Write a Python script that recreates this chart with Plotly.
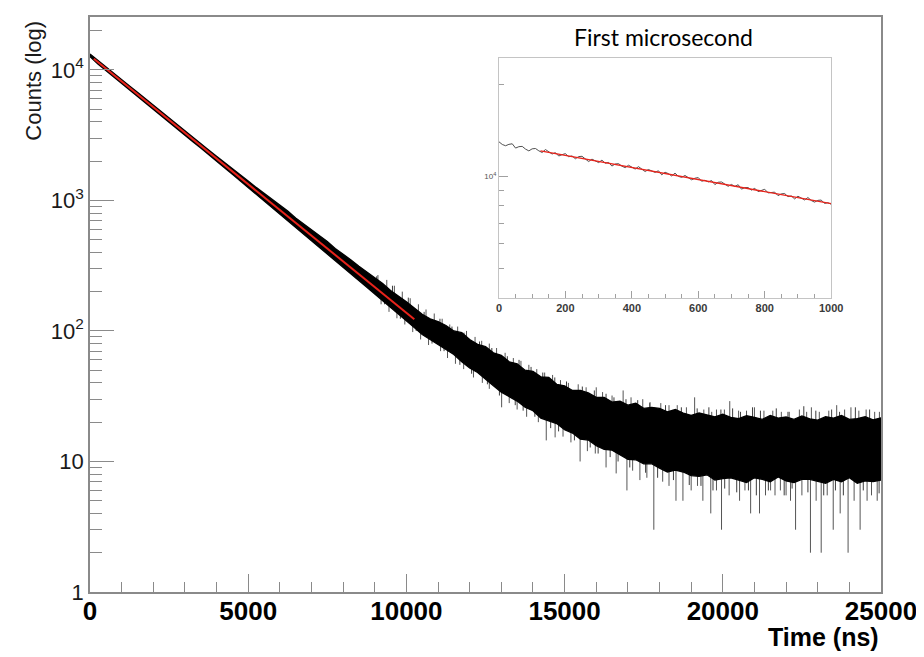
import math
import plotly.graph_objects as go

# ---------------- data ----------------
# main histogram: edges of the dense black band, every 250 ns
time_grid = list(range(0, 25001, 250))
core_upper = [13250, 11800, 10530, 9400, 8400, 7530, 6730, 6000, 5360, 4790,
              4275, 3835, 3420, 3060, 2730, 2435, 2180, 1960, 1750, 1565,
              1409, 1258, 1134, 1022, 913, 829, 734, 661, 596, 532,
              484, 428, 389, 350, 313, 284, 254, 231, 204, 186,
              167, 150, 134, 124, 118, 110, 100, 97, 86, 79,
              76, 68, 65, 58, 56, 50, 49, 44.5, 44, 39,
              38, 35, 35, 33.5, 31, 31, 28.5, 29, 27, 28,
              25.5, 26, 25.5, 24, 25, 23.5, 22.5, 23.5, 22.8, 22,
              23, 21.8, 21.3, 22.4, 21.8, 21, 22.5, 21.5, 21.9, 21,
              22.3, 21.2, 20.7, 22, 21.5, 22.5, 21, 21.3, 22, 20.8, 21.6]
core_lower = [12650, 11110, 9920, 8860, 7910, 7030, 6270, 5600, 5000, 4460,
              3985, 3540, 3160, 2820, 2520, 2250, 2005, 1775, 1585, 1414,
              1263, 1122, 996, 889, 790, 701, 623, 553, 491, 436,
              392, 344, 309, 271, 243, 216, 192, 171, 151, 134,
              119, 106, 94, 86, 79, 72, 66, 58, 52, 48,
              43, 38, 34, 31.5, 29, 26, 24.5, 21.5, 20.5, 19.5,
              17.5, 16.5, 14.8, 14.6, 13.2, 12.4, 12.2, 11.3, 10.4, 10.3,
              9.6, 9.6, 8.9, 8.3, 8.6, 8.3, 7.8, 7.7, 7.9, 7.2,
              7.4, 7.5, 7.2, 6.9, 7.5, 7.3, 7.0, 7.6, 7.1, 6.9,
              7.3, 7.3, 7.0, 6.8, 7.3, 7.0, 7.5, 6.8, 7.1, 7.0, 7.2]

# single bins sticking out of the band (time, tip value)
whisker_time = [9100, 9380, 9620, 9870, 10120, 10380, 10620, 10880, 11130, 11370,
                11620, 11900, 12170, 12380, 12620, 12850, 13120, 13380, 13620, 13870,
                14120, 14370, 14620, 14870, 15120, 15430, 15680, 16000, 16200, 16500,
                16850, 17100, 17470, 17700, 18040, 18300, 18560, 18850, 19110, 19400,
                19650, 19800, 20050, 20220, 20500, 20750, 21000, 21300, 21580, 21850,
                22100, 22420, 22650, 22800, 23050, 23350, 23600, 23850, 24050, 24300,
                24530, 24800, 24950,
                9200, 9450, 9700, 9950, 10200, 10450, 10700, 11080, 11300, 11550,
                11810, 12120, 12400, 12620, 13010, 13250, 13500, 13800, 14170, 14420,
                14700, 14950, 15200, 15490, 15720, 15970, 16310, 16630, 16970, 17150,
                17380, 17600, 17820, 18100, 18300, 18520, 18740, 19000, 19200, 19370,
                19620, 19800, 19960, 20200, 20530, 20700, 20880, 21160, 21350, 21510,
                21650, 21820, 22000, 22140, 22300, 22500, 22770, 22950, 23110, 23300,
                23490, 23710, 23960, 24150, 24340, 24560, 24700, 24880]
whisker_tip = [268, 246, 222, 200, 178, 160, 146, 136, 124, 112,
               108, 100, 90, 84, 80, 74, 68, 62, 59, 55,
               51, 48, 46, 42, 40, 39, 37, 37, 34, 32,
               35, 31, 30, 28.5, 28, 27, 27, 26, 31, 25,
               24, 25, 25, 29, 24.5, 24.5, 26, 24.5, 24.5, 24,
               24, 25, 24, 26, 24, 24.5, 27, 25, 26, 24.5,
               25, 24, 24,
               160, 140, 125, 112, 98, 86, 78, 70, 62, 56,
               51, 44, 40, 36, 26, 28, 25, 22, 20, 14.5,
               15.3, 15.5, 14, 10, 12, 11.5, 9, 8.1, 6, 8.5,
               7.2, 7.5, 3, 7, 6.5, 5, 5, 6, 6.5, 5,
               4, 6, 3, 5.5, 5, 6, 4, 4, 5.5, 6,
               5.5, 6, 5.5, 5, 3, 5.5, 2, 5, 2, 5.5,
               3, 4, 2, 5, 3, 5, 5.5, 5]

# shorter bins along the band edges (time, tip value)
fringe_time = [9060, 9310, 9560, 9810, 10060, 10310, 10560, 10810, 11060, 11190,
               11440, 11690, 11820, 12060, 12310, 12560, 12700, 12940, 13190, 13440,
               13560, 13690, 13940, 14060, 14310, 14560, 14690, 14810, 15060, 15310,
               15560, 15810, 15940, 16060, 16310, 16440, 16560, 16690, 16940, 17060,
               17310, 17560, 17690, 17940, 18190, 18440, 18690, 18940, 19190, 19310,
               19560, 19690, 19940, 20060, 20310, 20440, 20560, 20810, 20940, 21060,
               21190, 21440, 21690, 21940, 22060, 22190, 22560, 22690, 22940, 23190,
               23440, 23560, 23690, 23810, 24190, 24440, 24640, 24940]
fringe_tip = [262, 160, 222, 124, 180, 100, 140, 80, 124, 70,
              108, 55, 97, 47, 83, 39, 74, 32, 64, 27,
              60, 24.5, 53, 22, 48, 18, 44, 17, 41, 14.5,
              37.5, 12.8, 35, 11.5, 33, 10.8, 31, 10, 30, 9,
              29.5, 8.2, 28, 7.5, 27, 7.2, 26, 6.6, 25.5, 6.5,
              26, 6, 25, 6.2, 25.5, 5.8, 24, 6, 26, 5.5,
              24.5, 6, 25.5, 5.5, 24, 6.2, 26.5, 5.8, 24.5, 5.5,
              25, 6, 24, 5.5, 26, 6, 25, 5.7]

# exponential fit (end points of the red line)
fit_time = [120, 10250]
fit_counts = [12150, 123]

# inset: first microsecond, 10 ns bins
inset_time = list(range(0, 1001, 10))
inset_counts = [13004, 12741, 12619, 12752, 12807, 12398, 12529, 12559, 12304, 12138,
                12328, 12357, 12144, 11991, 12262, 12038, 11852, 11977, 11674, 11798,
                11886, 11609, 11684, 11434, 11625, 11651, 11382, 11194, 11404, 11284,
                11109, 11315, 11053, 11124, 10821, 10991, 11017, 10815, 10690, 10889,
                10754, 10577, 10773, 10545, 10381, 10543, 10432, 10313, 10442, 10127,
                10326, 10218, 10040, 10257, 10009, 9933, 10077, 9933, 9750, 9872,
                9915, 9645, 9718, 9597, 9697, 9404, 9571, 9594, 9409, 9282,
                9417, 9271, 9396, 9086, 9191, 9195, 9017, 9148, 8917, 9002,
                9077, 8831, 8835, 8883, 8650, 8768, 8788, 8583, 8631, 8438,
                8612, 8496, 8373, 8529, 8339, 8235, 8347, 8366, 8155, 8200, 8106]
inset_fit_time = [125, 1000]
inset_fit_counts = [12140, 8140]

# tick labels
x_ticks = [0, 5000, 10000, 15000, 20000, 25000]
x_tick_text = ["0", "5000", "10000", "15000", "20000", "25000"]
y_ticks = [1, 10, 100, 1000, 10000]
y_tick_text = ["1", "10", "10<sup>2</sup>", "10<sup>3</sup>", "10<sup>4</sup>"]
y_minor = [m * d for d in (1, 10, 100, 1000) for m in range(2, 10)] + [20000]
inset_x_ticks = [0, 200, 400, 600, 800, 1000]
inset_y_minor = [4000, 5000, 6000, 7000, 8000, 9000, 20000]

# ---------------- figure ----------------
AX = "#8a8a8a"
fig = go.Figure()


def whisker_segments(times, tips):
    xs, ys = [], []
    for t, tip in zip(times, tips):
        i = round(t / 250)
        base = math.sqrt(core_upper[i] * core_lower[i])  # starts inside the band
        xs += [t, t, None]
        ys += [base, tip, None]
    return xs, ys


fx, fy = whisker_segments(fringe_time, fringe_tip)
fig.add_trace(go.Scatter(x=fx, y=fy, mode="lines",
                         line=dict(color="#3c3c3c", width=1), hoverinfo="skip"))
wx, wy = whisker_segments(whisker_time, whisker_tip)
fig.add_trace(go.Scatter(x=wx, y=wy, mode="lines",
                         line=dict(color="#555555", width=1), hoverinfo="skip"))

fig.add_trace(go.Scatter(
    x=time_grid + time_grid[::-1], y=core_upper + core_lower[::-1],
    fill="toself", fillcolor="black", mode="lines",
    line=dict(color="black", width=1.3), hoverinfo="skip"))

fig.add_trace(go.Scatter(x=fit_time, y=fit_counts, mode="lines",
                         line=dict(color="#e8231b", width=2)))

fig.add_trace(go.Scatter(x=inset_time, y=inset_counts, mode="lines",
                         line=dict(color="#505050", width=1),
                         xaxis="x2", yaxis="y2"))
fig.add_trace(go.Scatter(x=inset_fit_time, y=inset_fit_counts, mode="lines",
                         line=dict(color="#e8231b", width=1.3),
                         xaxis="x2", yaxis="y2"))

fig.update_layout(
    width=916, height=649,
    margin=dict(l=82, r=40, t=7, b=65),
    paper_bgcolor="white", plot_bgcolor="white",
    showlegend=False,
    xaxis=dict(range=[0, 25000], showline=True, linecolor=AX, linewidth=1.5,
               mirror=True, ticks="inside", ticklen=18, tickwidth=1.3, tickcolor=AX,
               tickvals=x_ticks, ticktext=x_tick_text, showgrid=False, zeroline=False,
               ticklabelstandoff=-5,
               tickfont=dict(family="Liberation Sans, Arial", size=26, color="black",
                             weight="bold"),
               minor=dict(ticks="inside", ticklen=10, dtick=1000, tickcolor=AX,
                          tickwidth=1.2, showgrid=False)),
    yaxis=dict(type="log", range=[0, 4.405], showline=True, linecolor=AX, linewidth=1.5,
               mirror=True, ticks="inside", ticklen=24, tickwidth=1.3, tickcolor=AX,
               tickvals=y_ticks, ticktext=y_tick_text, showgrid=False, zeroline=False,
               tickfont=dict(family="Liberation Sans, Arial", size=22, color="#1a1a1a"),
               minor=dict(ticks="inside", ticklen=12, tickvals=y_minor, tickcolor=AX,
                          tickwidth=1.2, showgrid=False)),
    xaxis2=dict(domain=[0.517, 0.937], anchor="y2", range=[0, 1000],
                showline=True, linecolor="#c4c4c4", linewidth=1, mirror=True,
                ticks="inside", ticklen=7, tickcolor="#a0a0a0", tickvals=inset_x_ticks,
                showgrid=False, zeroline=False,
                tickfont=dict(family="Liberation Sans, Arial", size=11, color="#3a3a3a",
                              weight="bold"),
                minor=dict(ticks="inside", ticklen=4, dtick=50, tickcolor="#a0a0a0",
                           showgrid=False)),
    yaxis2=dict(domain=[0.511, 0.929], anchor="x2", type="log", range=[3.6, 4.39],
                showline=True, linecolor="#c4c4c4", linewidth=1, mirror=True,
                ticks="inside", ticklen=9, tickcolor="#a0a0a0",
                tickvals=[10000], ticktext=["10<sup>4</sup>"],
                showgrid=False, zeroline=False,
                tickfont=dict(family="Liberation Sans, Arial", size=8, color="#555555"),
                minor=dict(ticks="inside", ticklen=5, tickvals=inset_y_minor,
                           tickcolor="#a0a0a0", showgrid=False)),
    annotations=[
        dict(text="Counts (log)", xref="paper", yref="paper", x=-0.071, y=0.889,
             textangle=-90, showarrow=False, xanchor="center", yanchor="middle",
             font=dict(family="Liberation Sans, Arial", size=22, color="#1a1a1a")),
        dict(text="Time (ns)", xref="paper", yref="paper", x=1.0, y=-0.078,
             showarrow=False, xanchor="right", yanchor="middle",
             font=dict(family="Liberation Sans, Arial", size=25, color="black",
                       weight="bold")),
        dict(text="First microsecond", xref="paper", yref="paper", x=0.7254, y=0.9653,
             showarrow=False, xanchor="center", yanchor="middle",
             font=dict(family="Lato, Open Sans", size=23, color="black")),
    ],
)

fig.write_html("out.html")
